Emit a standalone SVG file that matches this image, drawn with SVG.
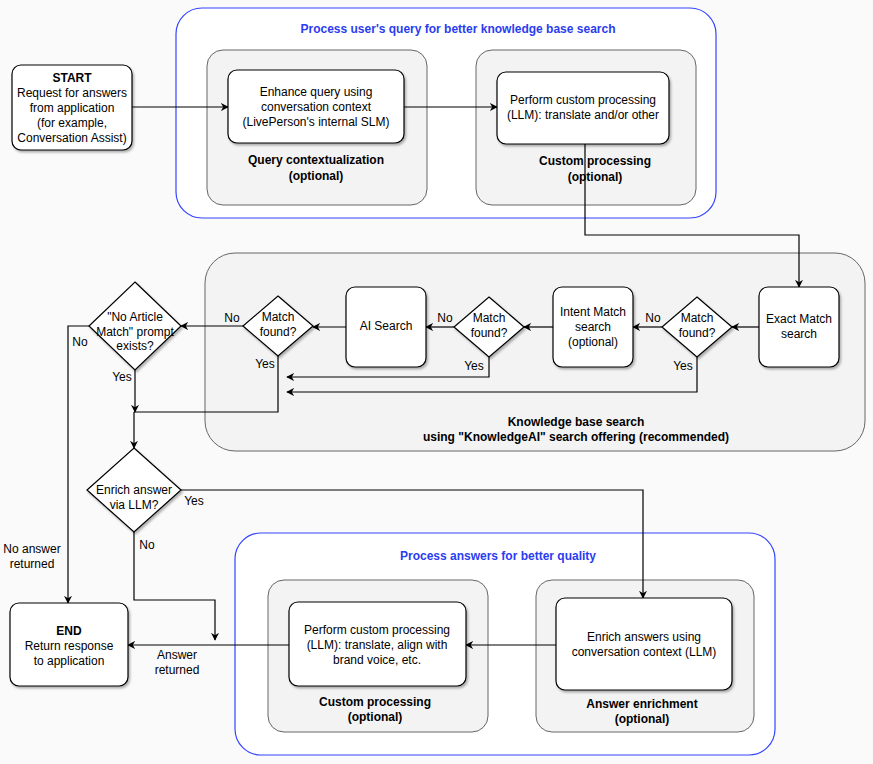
<svg xmlns="http://www.w3.org/2000/svg" width="873" height="764" viewBox="0 0 873 764">
<style>
text{font-family:"Liberation Sans",Arial,sans-serif;font-size:12px;fill:#000;text-anchor:middle}
.b{font-weight:bold}
.blue{fill:#2a3cf0;font-weight:bold}
.cont{fill:#fff;stroke:#3344ff;stroke-width:1.2}
.grp{fill:#f3f3f3;stroke:#666;stroke-width:1}
.node{fill:#fff;stroke:#000;stroke-width:1.2;filter:url(#sh)}
.c{fill:none;stroke:#000;stroke-width:1.2}
.ca{fill:none;stroke:#000;stroke-width:1.2;marker-end:url(#ah)}
.l{text-anchor:start}
</style>
<defs>
<filter id="sh" x="-10%" y="-10%" width="130%" height="130%"><feDropShadow dx="1.5" dy="2" stdDeviation="1" flood-color="#000" flood-opacity="0.3"/></filter>
<marker id="ah" viewBox="0 0 10 10" refX="9" refY="5" markerWidth="8" markerHeight="8" orient="auto" markerUnits="userSpaceOnUse"><path d="M0,0 L10,5 L0,10 L3,5 z" fill="#000"/></marker>
</defs>
<rect width="873" height="764" fill="#fafafa"/>
<g id="top-container">
<rect class="cont" x="176" y="8" width="540" height="210" rx="26"/>
<text class="blue" x="458" y="33">Process user's query for better knowledge base search</text>
</g>
<g id="grp-contextualization">
<rect class="grp" x="207" y="50" width="220" height="155" rx="16"/>
<text class="b" x="316" y="164">Query contextualization</text>
<text class="b" x="316" y="180">(optional)</text>
</g>
<g id="grp-custom1">
<rect class="grp" x="476" y="50" width="220" height="155" rx="16"/>
<text class="b" x="595" y="165">Custom processing</text>
<text class="b" x="595" y="181">(optional)</text>
</g>
<g id="kb-container">
<rect class="grp" x="205" y="253" width="660" height="198" rx="30"/>
<text class="b" x="576" y="426">Knowledge base search</text>
<text class="b" x="576" y="441">using "KnowledgeAI" search offering (recommended)</text>
</g>
<g id="bottom-container">
<rect class="cont" x="235" y="533" width="540" height="222" rx="26"/>
<text class="blue" x="498" y="560">Process answers for better quality</text>
</g>
<g id="grp-custom2">
<rect class="grp" x="268" y="580" width="220" height="152" rx="16"/>
<text class="b" x="375" y="706">Custom processing</text>
<text class="b" x="375" y="721">(optional)</text>
</g>
<g id="grp-enrich">
<rect class="grp" x="536" y="580" width="218" height="152" rx="16"/>
<text class="b" x="642" y="708">Answer enrichment</text>
<text class="b" x="642" y="723">(optional)</text>
</g>
<g id="connectors">
<path class="ca" d="M132,107 H228"/>
<path class="ca" d="M404,107 H497"/>
<path class="ca" d="M585,144 V235 H799 V287"/>
<path class="ca" d="M759,327 H732"/>
<path class="ca" d="M662,327 H633"/>
<path class="ca" d="M553,327 H524"/>
<path class="ca" d="M454,327 H426"/>
<path class="ca" d="M346,327 H313"/>
<path class="ca" d="M243,326 H181"/>
<path class="ca" d="M489,357 V377 H287"/>
<path class="ca" d="M697,357 V392 H287"/>
<path class="c" d="M278,356 V412 H134"/>
<path class="ca" d="M135,370 V412"/>
<path class="ca" d="M134,412 V448"/>
<path class="ca" d="M89,326 H68 V603"/>
<path class="ca" d="M181,490 H643 V598"/>
<path class="ca" d="M134,532 V600 H215 V640"/>
<path class="ca" d="M556,645 H466"/>
<path class="ca" d="M289,645 H128"/>
<text x="653" y="322">No</text>
<text x="445" y="322">No</text>
<text x="232" y="322">No</text>
<text x="474" y="370">Yes</text>
<text x="683" y="370">Yes</text>
<text x="265" y="368">Yes</text>
<text x="122" y="381">Yes</text>
<text x="80" y="346">No</text>
<text x="32" y="553">No answer</text>
<text x="32" y="568">returned</text>
<text x="194" y="505">Yes</text>
<text x="147" y="549">No</text>
<text x="177" y="659">Answer</text>
<text x="177" y="674">returned</text>
</g>
<g id="start">
<rect class="node" x="12" y="65" width="120" height="85" rx="9"/>
<text class="b" x="72" y="82">START</text>
<text x="72" y="97">Request for answers</text>
<text x="72" y="112">from application</text>
<text x="72" y="127">(for example,</text>
<text x="72" y="142">Conversation Assist)</text>
</g>
<g id="enhance-query">
<rect class="node" x="228" y="70" width="176" height="73" rx="9"/>
<text x="316" y="96">Enhance query using</text>
<text x="316" y="111">conversation context</text>
<text x="316" y="126">(LivePerson's internal SLM)</text>
</g>
<g id="custom-processing-1">
<rect class="node" x="497" y="72" width="172" height="72" rx="9"/>
<text x="583" y="104">Perform custom processing</text>
<text x="583" y="119">(LLM): translate and/or other</text>
</g>
<g id="exact-match">
<rect class="node" x="759" y="287" width="80" height="80" rx="9"/>
<text x="799" y="323">Exact Match</text>
<text x="799" y="338">search</text>
</g>
<g id="match3">
<path class="node" d="M697,297 L732,327 L697,357 L662,327 Z"/>
<text x="697" y="322">Match</text>
<text x="697" y="337">found?</text>
</g>
<g id="intent-match">
<rect class="node" x="553" y="287" width="80" height="80" rx="9"/>
<text x="593" y="316">Intent Match</text>
<text x="593" y="331">search</text>
<text x="593" y="346">(optional)</text>
</g>
<g id="match2">
<path class="node" d="M489,297 L524,327 L489,357 L454,327 Z"/>
<text x="489" y="322">Match</text>
<text x="489" y="337">found?</text>
</g>
<g id="ai-search">
<rect class="node" x="346" y="287" width="80" height="80" rx="9"/>
<text x="386" y="330">AI Search</text>
</g>
<g id="match1">
<path class="node" d="M278,296 L313,326 L278,356 L243,326 Z"/>
<text x="278" y="321">Match</text>
<text x="278" y="336">found?</text>
</g>
<g id="no-article">
<path class="node" d="M135,282 L181,326 L135,370 L89,326 Z"/>
<text x="135" y="321">"No Article</text>
<text x="135" y="336">Match" prompt</text>
<text x="135" y="350">exists?</text>
</g>
<g id="enrich-decision">
<path class="node" d="M134,448 L181,490 L134,532 L87,490 Z"/>
<text x="134" y="494">Enrich answer</text>
<text x="134" y="509">via LLM?</text>
</g>
<g id="end">
<rect class="node" x="10" y="603" width="118" height="83" rx="9"/>
<text class="b" x="69" y="635">END</text>
<text x="69" y="650">Return response</text>
<text x="69" y="665">to application</text>
</g>
<g id="custom-processing-2">
<rect class="node" x="289" y="602" width="177" height="84" rx="9"/>
<text x="377" y="634">Perform custom processing</text>
<text x="377" y="649">(LLM): translate, align with</text>
<text x="377" y="664">brand voice, etc.</text>
</g>
<g id="answer-enrichment">
<rect class="node" x="556" y="598" width="176" height="92" rx="9"/>
<text x="644" y="641">Enrich answers using</text>
<text x="644" y="656">conversation context (LLM)</text>
</g>
</svg>
